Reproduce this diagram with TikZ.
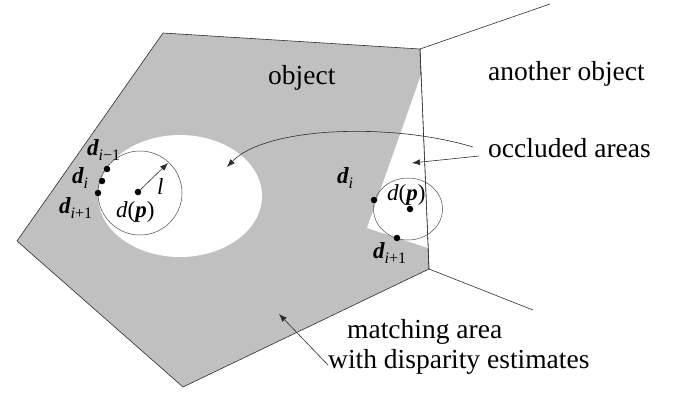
\documentclass[tikz,border=0pt]{standalone}
\usepackage{fontspec}
\setmainfont{Liberation Serif}
\usetikzlibrary{arrows.meta,calc}
\definecolor{areac}{RGB}{192,192,192}
\definecolor{linec}{RGB}{45,45,45}

\newcommand{\bd}{{\bfseries\itshape d}}
\newcommand{\bp}{{\bfseries\itshape p}}
\newcommand{\sub}[1]{\raisebox{-5pt}{\fontsize{16}{16}\selectfont #1}}

\begin{document}
\begin{tikzpicture}[
  x=1pt, y=-1pt,
  >={Latex[length=8pt,width=6pt]},
  lbl/.style={font=\fontsize{27.5}{30}\selectfont, inner sep=0pt, anchor=base west},
  sym/.style={font=\fontsize{23}{25}\selectfont, inner sep=0pt, anchor=base west},
  edge/.style={draw=linec, line width=0.6pt},
  thinedge/.style={draw=linec!85, line width=0.5pt},
  arr/.style={->, draw=linec, line width=0.6pt},
  dot/.style={circle, fill=black, inner sep=0pt, minimum size=6.5pt},
]
\useasboundingbox (0,0) rectangle (675,408);

% ---- object outline ----
\coordinate (tl) at (163,33);
\coordinate (tr) at (420,49);
\coordinate (br) at (429,269);
\coordinate (bt) at (183,387);
\coordinate (lf) at (17,241);
\filldraw[fill=areac, edge] (tl) -- (tr) -- (br) -- (bt) -- (lf) -- cycle;

% ---- occluded areas ----
\fill[white] (180,196) ellipse [x radius=82, y radius=61];
\fill[white] (421,75) -- (367,228) -- (428,248) -- cycle;
\draw[edge] (tr) -- (br);

% ---- another object ----
\coordinate (ot) at (550,4);
\coordinate (ob) at (533,310);
\draw[edge] (tr) -- (ot);
\draw[edge] (br) -- (ob);

% ---- left window ----
\draw[thinedge] (140,193) circle [radius=42];
\node[dot] (lm) at (107,169) {};
\node[dot] (li) at (102,181) {};
\node[dot] (lp) at (98,193) {};
\node[dot] (lc) at (138,192) {};
\coordinate (ltip) at (168,163);
\draw[arr] (lc) -- (ltip);

\node[sym] (ldm) at (87,155) {\bd\sub{\itshape i\upshape −1}};
\node[sym] (ldi) at (72,183) {\bd\sub{\itshape i}};
\node[sym] (ldp) at (59,213) {\bd\sub{\itshape i\upshape +1}};
\node[sym] (ldd) at (116,217) {\itshape d\upshape (\bp)};
\node[sym] (len) at (157,194) {\itshape l};

% ---- right window ----
\draw[thinedge] (408,209) ellipse [x radius=34.5, y radius=31];
\node[dot] (ri) at (374,200) {};
\node[dot] (rp) at (397,238) {};
\node[dot] (rc) at (410,209) {};

\node[sym] (rdi) at (337,183) {\bd\sub{\itshape i}};
\node[sym] (rdp) at (373,258) {\bd\sub{\itshape i\upshape +1}};
\node[sym] (rdd) at (387,200) {\itshape d\upshape (\bp)};

% ---- texts ----
\node[lbl] (obj) at (268,84) {object};
\node[lbl] (other) at (488,80) {another object};
\node[lbl] (occl) at (488,157) {occluded areas};
\node[lbl, align=left] (match) at (328,368)
  {\hspace*{19pt}matching area\\with disparity estimates};

% ---- arrows ----
\coordinate (occa) at (473,147);
\coordinate (occb) at (479,156);
\coordinate (ellt) at (227,167);
\coordinate (wedt) at (412,163);
\draw[arr] (occa) .. controls (390,122) and (265,127) .. (ellt);
\draw[arr] (occb) -- (wedt);

\coordinate (mstart) at (328,365);
\coordinate (mtip) at (279,314);
\draw[arr] (mstart) -- (mtip);

\end{tikzpicture}
\end{document}
